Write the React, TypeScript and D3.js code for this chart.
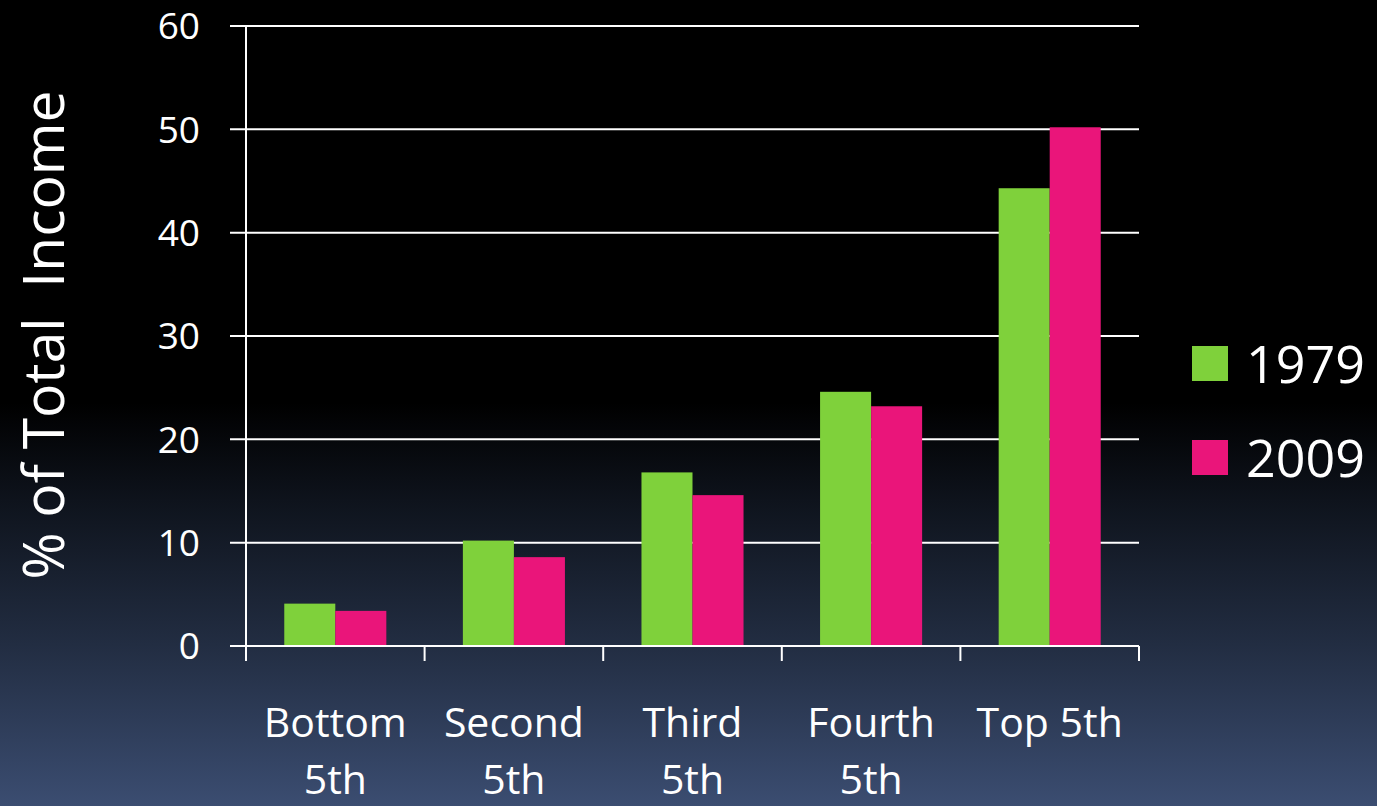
import React from "react";
import * as d3 from "d3";

const categories = ["Bottom 5th", "Second 5th", "Third 5th", "Fourth 5th", "Top 5th"];
const categoryLines = [["Bottom", "5th"], ["Second", "5th"], ["Third", "5th"], ["Fourth", "5th"], ["Top 5th"]];
const seriesNames = ["1979", "2009"];
const values1979 = [4.1, 10.2, 16.8, 24.6, 44.3];
const values2009 = [3.4, 8.6, 14.6, 23.2, 50.2];
const yTicks = [0, 10, 20, 30, 40, 50, 60];
const seriesColors = ["#7fd13b", "#ea157a"];

const W = 1377;
const H = 806;
const margin = { left: 246, right: 238, top: 26, bottom: 160 };
const FONT = "'Open Sans', 'Noto Sans', sans-serif";

export default function App() {
  const x = d3
    .scaleBand<string>()
    .domain(categories)
    .range([margin.left, W - margin.right]);
  const y = d3.scaleLinear().domain([0, 60]).range([H - margin.bottom, margin.top]);
  const sub = d3
    .scaleBand<string>()
    .domain(seriesNames)
    .range([0, x.bandwidth()])
    .paddingInner(0)
    .paddingOuter(0.75);
  const series = [values1979, values2009];
  const x0 = margin.left;
  const x1 = W - margin.right;
  const y0 = y(0);

  return (
    <svg
      width={W}
      height={H}
      style={{ position: "absolute", left: 0, top: 0, display: "block" }}
    >
      <defs>
        <linearGradient id="bg" x1="0" y1="0" x2="0" y2="1">
          <stop offset="0" stopColor="#000000" />
          <stop offset="0.5" stopColor="#000000" />
          <stop offset="0.62" stopColor="#0e131c" />
          <stop offset="0.8" stopColor="#222d42" />
          <stop offset="1" stopColor="#3b4d71" />
        </linearGradient>
      </defs>
      <rect x={0} y={0} width={W} height={H} fill="url(#bg)" />

      {/* horizontal gridlines with left tick stubs */}
      {yTicks.map((t) => (
        <g key={t}>
          <line x1={x0 - 16} x2={x1} y1={y(t)} y2={y(t)} stroke="#ffffff" strokeWidth={2} />
          <text
            x={x0 - 46}
            y={y(t)}
            dy="0.36em"
            textAnchor="end"
            fill="#ffffff"
            fontFamily={FONT}
            fontSize={37}
          >
            {t}
          </text>
        </g>
      ))}

      {/* bars */}
      {categories.map((c, i) =>
        series.map((vals, s) => (
          <rect
            key={c + s}
            x={(x(c) as number) + (sub(seriesNames[s]) as number)}
            y={y(vals[i])}
            width={sub.bandwidth()}
            height={y0 - y(vals[i])}
            fill={seriesColors[s]}
          />
        ))
      )}

      {/* y axis */}
      <line x1={x0} x2={x0} y1={y(60)} y2={y0 + 15} stroke="#ffffff" strokeWidth={2} />
      {/* x axis ticks between categories */}
      {categories.map((c, i) => (
        <line
          key={"t" + i}
          x1={(x(c) as number) + x.bandwidth()}
          x2={(x(c) as number) + x.bandwidth()}
          y1={y0}
          y2={y0 + 15}
          stroke="#ffffff"
          strokeWidth={2}
        />
      ))}
      <line x1={x0} x2={x1} y1={y0} y2={y0} stroke="#ffffff" strokeWidth={2} />

      {/* category labels */}
      {categories.map((c, i) => (
        <text
          key={"l" + c}
          x={(x(c) as number) + x.bandwidth() / 2}
          y={737}
          textAnchor="middle"
          fill="#ffffff"
          fontFamily={FONT}
          fontSize={41}
        >
          {categoryLines[i].map((ln, k) => (
            <tspan key={k} x={(x(c) as number) + x.bandwidth() / 2} dy={k === 0 ? 0 : 57}>
              {ln}
            </tspan>
          ))}
        </text>
      ))}

      {/* y axis title */}
      <text
        transform={`translate(64,335) rotate(-90)`}
        textAnchor="middle"
        fill="#ffffff"
        fontFamily={FONT}
        fontSize={57}
        style={{ whiteSpace: "pre" }}
      >
        {"% of Total  Income"}
      </text>

      {/* legend */}
      {seriesNames.map((n, s) => (
        <g key={n} transform={`translate(1192, ${346 + s * 94})`}>
          <rect x={0} y={0} width={36} height={35} fill={seriesColors[s]} />
          <text x={54} y={18} dy="0.36em" fill="#ffffff" fontFamily={FONT} fontSize={52}>
            {n}
          </text>
        </g>
      ))}
    </svg>
  );
}
